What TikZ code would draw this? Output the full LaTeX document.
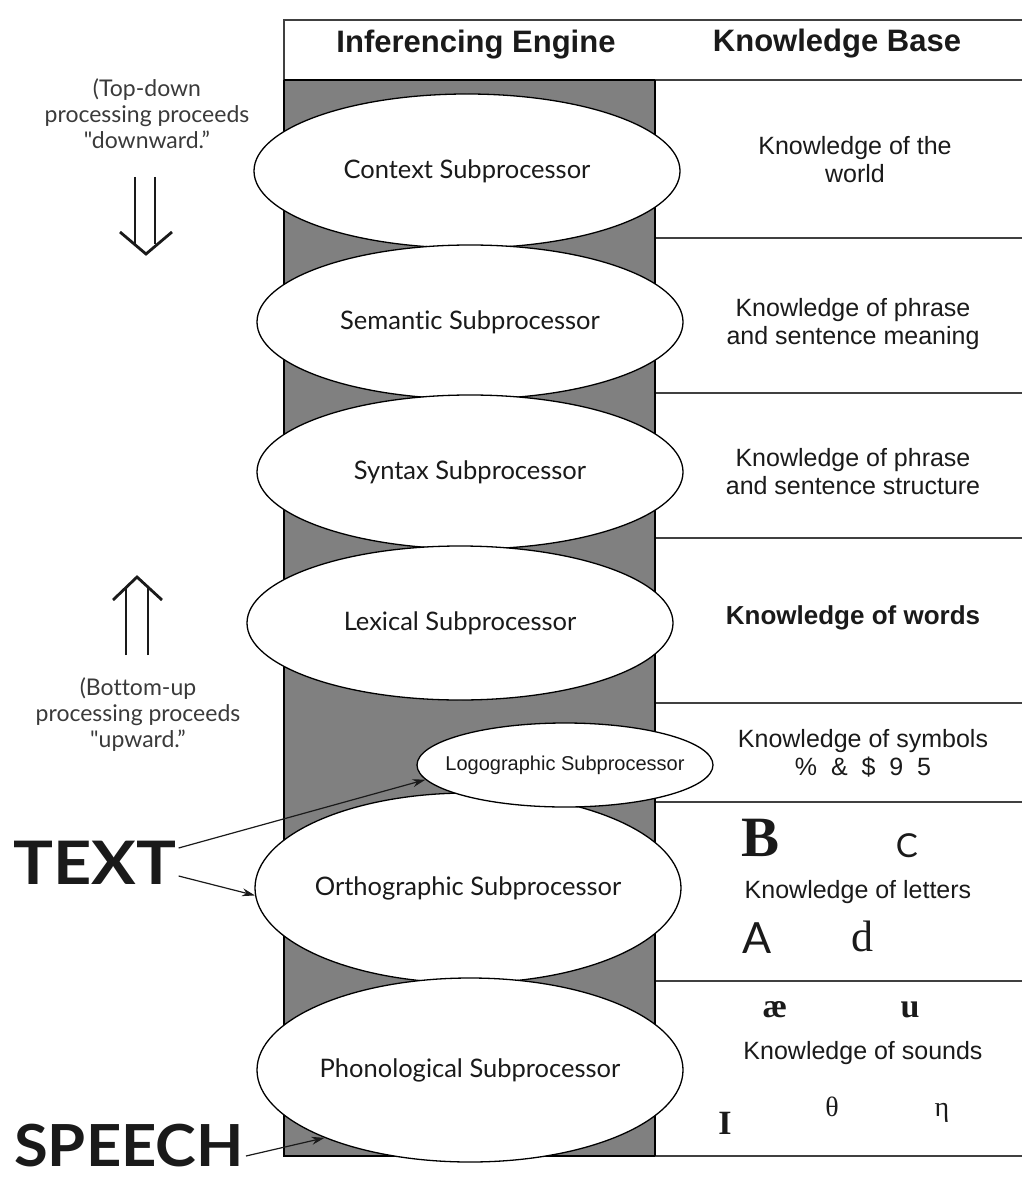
\documentclass[tikz,border=0pt]{standalone}
\usepackage{fontspec}
\setmainfont{Liberation Sans}
\newfontfamily\gill[Ligatures=NoCommon]{Lato}
\newfontfamily\glyphserif{Liberation Serif}
\usetikzlibrary{arrows.meta,shapes.geometric}
\definecolor{ink}{HTML}{1A1A1A}
\definecolor{inksoft}{HTML}{3A3A3A}
\definecolor{column}{HTML}{808080}
\tikzset{
  subproc/.style={ellipse,draw=black,line width=1.3pt,fill=white,
    minimum width=426pt,minimum height=154pt,inner sep=0pt},
  proctext/.style={text=ink,font=\gill\fontsize{25.5}{28}\selectfont},
  kbtext/.style={align=center,text=ink,font=\fontsize{25}{28}\selectfont},
  headtext/.style={text=ink,font=\bfseries\fontsize{31}{34}\selectfont},
  notetext/.style={align=center,text=inksoft,font=\gill\fontsize{23}{26}\selectfont},
  inputtext/.style={text=ink,font=\gill\bfseries\fontsize{60}{62}\selectfont,inner sep=2pt},
  inarr/.style={-{Stealth[length=13pt,width=8pt]},line width=1.2pt,color=ink},
  kbline/.style={line width=1.6pt,color=black!75},
  bigarr/.style={line width=2.8pt,color=ink},
}

\begin{document}
\begin{tikzpicture}[x=1pt,y=-1pt]
  \useasboundingbox (0,0) rectangle (1022,1182);

  % table frame
  \fill[column] (284,80) rectangle (655,1156);
  \draw[kbline] (1022,20) -- (284,20) -- (284,80);
  \draw[kbline] (655,80) -- (1022,80);
  \foreach \y in {238,393,538,703,802,981,1156}
    \draw[kbline] (655,\y) -- (1022,\y);
  \draw[line width=2.8pt] (284,80) -- (655,80);
  \draw[line width=2.8pt] (284,80) -- (284,1156) -- (655,1156);
  \draw[line width=1.8pt] (655,80) -- (655,1156);

  \node[headtext] (engine) at (476,45) {Inferencing Engine};
  \node[headtext] (kbase) at (837,44) {Knowledge Base};

  % subprocessors
  \node[subproc,label={[proctext]center:Context Subprocessor}] (context) at (467,171) {};
  \node[subproc,label={[proctext]center:Semantic Subprocessor}] (semantic) at (470,322) {};
  \node[subproc,label={[proctext]center:Syntax Subprocessor}] (syntax) at (470,472) {};
  \node[subproc,label={[proctext]center:Lexical Subprocessor}] (lexical) at (460,623) {};
  \node[subproc,minimum height=190pt,label={[proctext]center:Orthographic Subprocessor}] (ortho) at (468,888) {};
  \node[subproc,minimum height=184pt,label={[proctext]center:Phonological Subprocessor}] (phono) at (470,1070) {};
  \node[subproc,minimum width=296pt,minimum height=84pt,
    label={[text=ink,font=\fontsize{20}{24}\selectfont]center:Logographic Subprocessor}] (logo) at (565,765) {};

  % knowledge base
  \node[kbtext] (world) at (855,160) {Knowledge of the\\world};
  \node[kbtext] (meaning) at (853,324) {Knowledge of phrase\\and sentence meaning};
  \node[kbtext] (structure) at (853,472) {Knowledge of phrase\\and sentence structure};
  \node[kbtext,font=\bfseries\fontsize{26}{28}\selectfont] (words) at (853,618) {Knowledge of words};
  \node[kbtext] (symbols) at (863,753) {Knowledge of symbols\\\% \ \& \ \$ \ 9 \ 5};
  \node[kbtext] (letters) at (858,892) {Knowledge of letters};
  \node[font=\glyphserif\bfseries\fontsize{57}{57}\selectfont,text=ink] (lB) at (760,838) {B};
  \node[font=\gill\fontsize{33}{33}\selectfont,text=ink] (lC) at (907,846) {C};
  \node[font=\gill\fontsize{43}{43}\selectfont,text=ink] (lA) at (757,938) {A};
  \node[font=\glyphserif\fontsize{44}{44}\selectfont,text=ink] (ld) at (862,936) {d};
  \node[kbtext] (sounds) at (863,1053) {Knowledge of sounds};
  \node[font=\glyphserif\bfseries\fontsize{34}{34}\selectfont,text=ink] (sae) at (775,1010) {æ};
  \node[font=\glyphserif\bfseries\fontsize{34}{34}\selectfont,text=ink] (su) at (910,1010) {u};
  \node[font=\glyphserif\bfseries\fontsize{34}{34}\selectfont,text=ink] (sI) at (725,1123) {I};
  \node[font=\glyphserif\fontsize{28}{28}\selectfont,text=ink] (stheta) at (832,1107) {θ};
  \node[font=\glyphserif\fontsize{28}{28}\selectfont,text=ink] (seta) at (942,1113) {η};

  % processing direction
  \node[notetext] (topdown) at (147,114) {(Top-down\\processing proceeds\\"downward.”};
  \draw[bigarr] (135,177) -- (135,244) (155,177) -- (155,244);
  \draw[bigarr,line join=miter] (120,232) -- (146,254) -- (172,232);
  \draw[bigarr] (126,655) -- (126,588) (148,655) -- (148,588);
  \draw[bigarr,line join=miter] (113,600) -- (137,577) -- (162,600);
  \node[notetext] (bottomup) at (138,715) {(Bottom-up\\processing proceeds\\"upward.”};

  % inputs
  \node[inputtext] (text) at (95,863) {\scalebox{1.11}[1]{TEXT}};
  \node[inputtext,font=\gill\bfseries\fontsize{58}{60}\selectfont] (speech) at (129,1146) {\scalebox{1.06}[1]{SPEECH}};
  \draw[inarr] ([yshift=-10pt]speech.east) -- (phono.205);
  \draw[inarr] ([yshift=15pt]text.east) -- (logo.186);
  \draw[inarr] ([yshift=-13pt]text.east) -- (ortho.182);
\end{tikzpicture}
\end{document}
